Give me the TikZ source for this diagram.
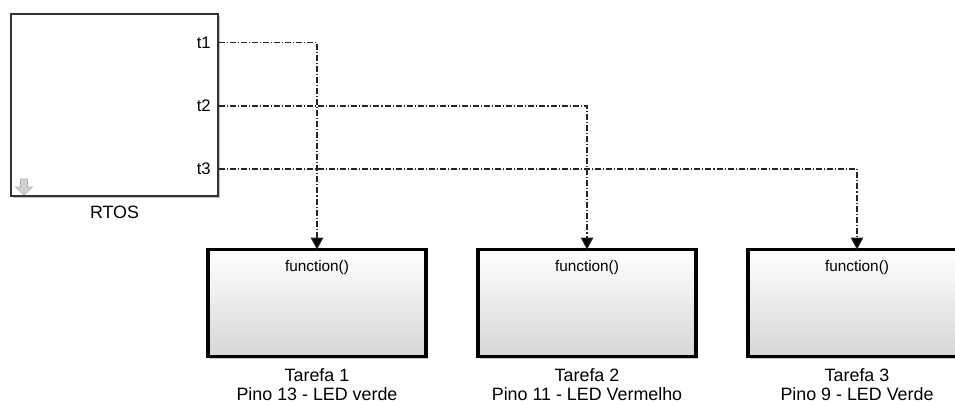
\documentclass[tikz,border=0pt]{standalone}
\usepackage{fontspec}
\setmainfont{Liberation Sans}
\usetikzlibrary{arrows.meta,shadows}

\begin{document}
\begin{tikzpicture}[x=0.75pt,y=-0.75pt,
  rtosbox/.style={draw=black!80, line width=1.5pt, fill=white,
    minimum width=155.25pt, minimum height=136.5pt, inner sep=0pt, outer sep=0pt,
    drop shadow={shadow xshift=1.5pt, shadow yshift=-1.8pt, opacity=0.35, fill=black!70}},
  fcnbox/.style={draw=black, line width=2.4pt,
    top color=white, middle color=white, bottom color=black!16,
    minimum width=163.5pt, minimum height=80.25pt, inner sep=0pt, outer sep=0pt,
    drop shadow={shadow xshift=1.5pt, shadow yshift=-1.5pt, opacity=0.3, fill=black!70}},
  portlabel/.style={anchor=base east, inner sep=0pt, font=\fontsize{12.5}{14}\selectfont},
  fcnlabel/.style={anchor=base, inner sep=0pt, font=\fontsize{11.5}{13}\selectfont},
  blocklabel/.style={anchor=base, inner sep=0pt, font=\fontsize{13.4}{15}\selectfont},
  trigger/.style={draw=black!85, line width=0.8pt,
    dash pattern=on 4.5pt off 1.5pt on 0.8pt off 1.5pt,
    -{Triangle[width=9.5pt,length=9pt,fill=black]}},
]
\path[use as bounding box, clip] (0,0) rectangle (955,405);

% scheduler block with its three trigger outputs
\node[rtosbox] (rtos) at (114.5,105) {};
\coordinate (p1) at (218.5,42.5);
\coordinate (p2) at (218.5,106);
\coordinate (p3) at (218.5,169);
\node[portlabel] (t1) at (211,48) {t1};
\node[portlabel] (t2) at (211,111.5) {t2};
\node[portlabel] (t3) at (211,174.5) {t3};
\node[blocklabel] (rtosname) at (114.5,218) {RTOS};

% small down-arrow badge in the lower left corner
\draw[fill=black!18, draw=black!30, line width=0.5pt]
  (20.5,179) -- (27.5,179) -- (27.5,187) -- (32.5,187) -- (24,195)
  -- (15.5,187) -- (20.5,187) -- cycle;

% function-call subsystems
\node[fcnbox] (f1) at (317,303) {};
\node[fcnbox] (f2) at (587,303) {};
\node[fcnbox] (f3) at (857,303) {};

\foreach \b/\n/\pin in {f1/1/Pino 13 - LED verde, f2/2/Pino 11 - LED Vermelho, f3/3/Pino 9 - LED Verde}{
  \node[fcnlabel] (\b fn) at ([yshift=-16.5pt]\b.north) {function()};
  \node[blocklabel] (\b task) at ([yshift=-19pt]\b.south) {Tarefa \n};
  \node[blocklabel] (\b pin) at ([yshift=-33.3pt]\b.south) {\pin};
}

% trigger connections
\draw[trigger] (p1) -| (f1.north);
\draw[trigger] (p2) -| (f2.north);
\draw[trigger] (p3) -| (f3.north);
\end{tikzpicture}
\end{document}
